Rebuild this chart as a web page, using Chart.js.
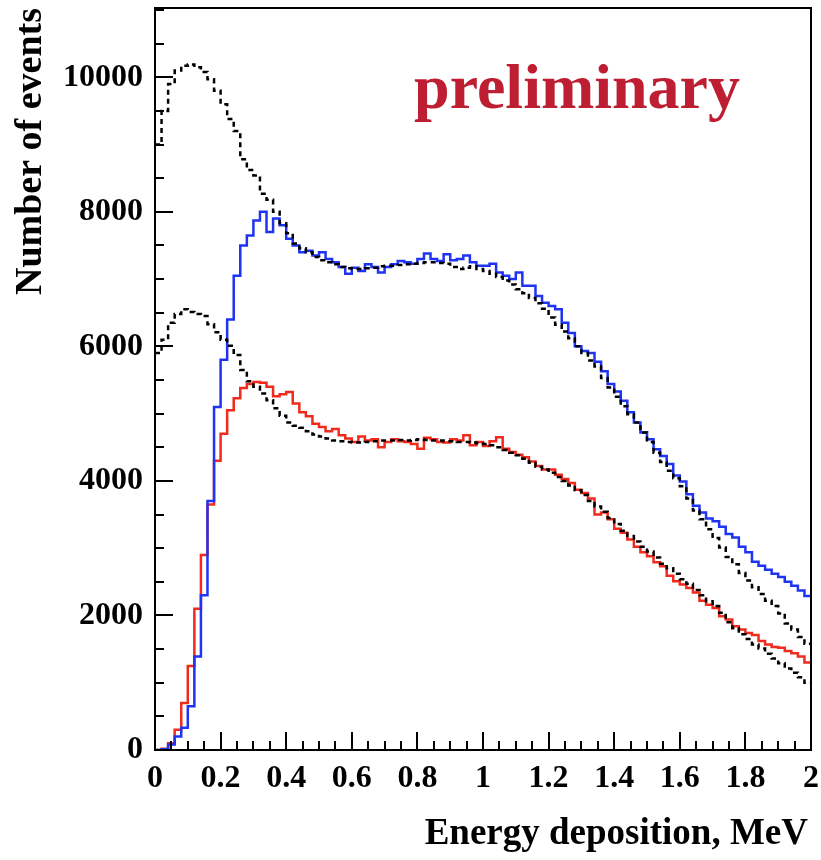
<!DOCTYPE html>
<html>
<head>
<meta charset="utf-8">
<script src="https://cdn.jsdelivr.net/npm/chart.js@4/dist/chart.umd.min.js"></script>
<style>
html,body{margin:0;padding:0;background:#fff;}
#c{display:block;}
</style>
</head>
<body>
<canvas id="c" width="821" height="860"></canvas>
<script>
// ---- Data (bin contents, 100 bins of 0.02 MeV from 0 to 2 MeV) ----
const binWidth = 0.02;
const nBins = 100;
const xTickValues = [0, 0.2, 0.4, 0.6, 0.8, 1, 1.2, 1.4, 1.6, 1.8, 2];
const yTickValues = [0, 2000, 4000, 6000, 8000, 10000];
const xTitle = 'Energy deposition, MeV';
const yTitle = 'Number of events';

const blueCounts = [
  0, 10, 80, 200, 330, 650, 1390, 2300, 3700, 5100,
  5800, 6400, 7050, 7500, 7650, 7870, 8000, 7700, 7900, 7800,
  7600, 7500, 7400, 7420, 7350, 7400, 7300, 7250, 7180, 7080,
  7170, 7120, 7220, 7180, 7100, 7180, 7220, 7270, 7250, 7230,
  7300, 7380, 7300, 7270, 7370, 7280, 7300, 7350, 7250, 7200,
  7200, 7230, 7100, 7050, 7000, 7100, 6900, 6900, 6750, 6650,
  6600, 6550, 6350, 6200, 6000, 5930, 5900, 5770, 5630, 5440,
  5330, 5190, 5020, 4870, 4720, 4620, 4470, 4370, 4250, 4080,
  3990, 3800, 3630, 3530, 3440, 3400, 3320, 3210, 3160, 3020,
  2940, 2800, 2740, 2680, 2620, 2570, 2500, 2440, 2370, 2290
];
const redCounts = [
  0, 20, 100, 300, 700, 1250, 2100, 2900, 3650, 4300,
  4700, 5050, 5230, 5380, 5440, 5470, 5460, 5400, 5260, 5290,
  5320, 5150, 5020, 4960, 4850, 4800, 4740, 4770, 4680, 4630,
  4580, 4660, 4600, 4620, 4500, 4580, 4620, 4590, 4580, 4550,
  4480, 4640, 4620, 4580, 4570, 4620, 4600, 4680, 4530, 4580,
  4520, 4590, 4650, 4480, 4430, 4390, 4350, 4290, 4220, 4170,
  4170, 4090, 4030, 3970, 3870, 3820, 3740, 3500, 3530, 3430,
  3290, 3230, 3130, 3020, 2940, 2880, 2790, 2730, 2590, 2510,
  2460, 2410, 2340, 2220, 2160, 2110, 1990, 1940, 1840, 1790,
  1740, 1710, 1620, 1570, 1530, 1520, 1470, 1440, 1390, 1300
];
const blueModel = [
  9000, 9500, 9900, 10100, 10170, 10190, 10150, 10080, 9970, 9800,
  9600, 9380, 9200, 8780, 8620, 8540, 8270, 8180, 8000, 7830,
  7680, 7530, 7460, 7400, 7330, 7280, 7250, 7220, 7180, 7160,
  7150, 7150, 7160, 7170, 7190, 7200, 7200, 7210, 7220, 7230,
  7240, 7250, 7250, 7240, 7230, 7180, 7150, 7170, 7190, 7150,
  7120, 7080, 7030, 6980, 6920, 6850, 6790, 6720, 6640, 6560,
  6430, 6320, 6220, 6120, 6000, 5900, 5790, 5700, 5530, 5390,
  5250, 5110, 4990, 4870, 4720, 4580, 4420, 4280, 4150, 4040,
  3920, 3740, 3560, 3430, 3280, 3150, 3010, 2870, 2760, 2630,
  2520, 2420, 2320, 2220, 2140, 2030, 1880, 1790, 1680, 1580
];
const redModel = [
  5900, 6100, 6350, 6480, 6550, 6510, 6480, 6450, 6330, 6210,
  6100, 6010, 5870, 5650, 5480, 5400, 5300, 5200, 5080, 4970,
  4870, 4820, 4790, 4740, 4690, 4660, 4630, 4600, 4590, 4580,
  4570, 4570, 4580, 4590, 4600, 4600, 4600, 4610, 4600, 4610,
  4620, 4610, 4600, 4600, 4590, 4590, 4580, 4580, 4570, 4560,
  4550, 4530, 4500, 4460, 4420, 4380, 4330, 4270, 4210, 4170,
  4120, 4060, 4000, 3930, 3860, 3790, 3700, 3620, 3540, 3450,
  3360, 3260, 3180, 3100, 3020, 2950, 2860, 2770, 2700, 2620,
  2540, 2470, 2380, 2300, 2210, 2140, 2040, 1900, 1810, 1720,
  1650, 1570, 1510, 1430, 1360, 1290, 1210, 1150, 1080, 1000
];

// ---- helpers ----
function histPoints(vals) {
  const pts = vals.map((v, i) => ({ x: +(i * binWidth).toFixed(4), y: v }));
  pts.push({ x: +(nBins * binWidth).toFixed(4), y: vals[vals.length - 1] });
  return pts;
}

const FONT = '"Liberation Serif", "Times New Roman", serif';

function noPad(s) { s.paddingTop = 0; s.paddingBottom = 0; s.paddingLeft = 0; s.paddingRight = 0; }

const rootAxes = {
  id: 'rootAxes',
  afterDatasetsDraw(chart) {
    const ctx = chart.ctx;
    const a = chart.chartArea;
    const xs = chart.scales.x, ys = chart.scales.y;
    ctx.save();
    ctx.strokeStyle = '#000';
    ctx.lineWidth = 2;
    ctx.strokeRect(a.left, a.top, a.right - a.left, a.bottom - a.top);
    ctx.beginPath();
    for (let k = 0; k <= 40; k++) {
      const px = Math.round(xs.getPixelForValue(k * 0.05));
      const len = (k % 4 === 0) ? 18 : 9;
      ctx.moveTo(px, a.bottom);
      ctx.lineTo(px, a.bottom - len);
    }
    for (let k = 0; k * 500 <= ys.max; k++) {
      const py = Math.round(ys.getPixelForValue(k * 500));
      const len = (k % 4 === 0) ? 18 : 9;
      ctx.moveTo(a.left, py);
      ctx.lineTo(a.left + len, py);
    }
    ctx.stroke();
    // x-axis title (ROOT style: right aligned)
    ctx.fillStyle = '#000';
    ctx.font = 'bold 37px ' + FONT;
    ctx.textAlign = 'right';
    ctx.textBaseline = 'alphabetic';
    ctx.fillText(xTitle, a.right - 3, 844);
    // preliminary label
    ctx.fillStyle = '#be1e31';
    ctx.font = 'bold 64px ' + FONT;
    ctx.textAlign = 'left';
    ctx.fillText('preliminary', xs.getPixelForValue(0.79), ys.getPixelForValue(9540));
    ctx.restore();
  }
};

const common = { pointRadius: 0, borderWidth: 2.5, stepped: 'before', fill: false, tension: 0 };

new Chart(document.getElementById('c'), {
  type: 'line',
  data: {
    datasets: [
      Object.assign({ label: 'model (total)', data: histPoints(blueModel), borderColor: '#000', borderDash: [5, 4] }, common),
      Object.assign({ label: 'model (selected)', data: histPoints(redModel), borderColor: '#000', borderDash: [5, 4] }, common),
      Object.assign({ label: 'data (total)', data: histPoints(blueCounts), borderColor: '#1f33f2' }, common),
      Object.assign({ label: 'data (selected)', data: histPoints(redCounts), borderColor: '#f02a1c' }, common)
    ]
  },
  options: {
    responsive: false,
    animation: false,
    devicePixelRatio: 1,
    layout: { padding: { top: 8, right: 10, left: 0, bottom: 0 } },
    plugins: { legend: { display: false }, tooltip: { enabled: false } },
    scales: {
      x: {
        type: 'linear', min: 0, max: 2,
        grid: { display: false, drawTicks: false },
        border: { display: false },
        afterBuildTicks: s => { s.ticks = xTickValues.map(v => ({ value: v })); },
        afterFit: s => { s.height = 110; noPad(s); },
        ticks: {
          padding: 10, color: '#000', maxRotation: 0, autoSkip: false,
          font: { family: FONT, size: 32, weight: 'bold' },
          callback: v => String(Number(v.toFixed(1)))
        },
        title: { display: false }
      },
      y: {
        type: 'linear', min: 0, max: 11030,
        grid: { display: false, drawTicks: false },
        border: { display: false },
        afterBuildTicks: s => { s.ticks = yTickValues.map(v => ({ value: v })); },
        afterFit: s => { s.width = 155; noPad(s); },
        ticks: {
          padding: 12, color: '#000', autoSkip: false,
          font: { family: FONT, size: 32, weight: 'bold' },
          callback: v => String(v)
        },
        title: {
          display: true, text: yTitle, align: 'end', color: '#000',
          font: { family: FONT, size: 38, weight: 'bold' },
          padding: { top: 8, bottom: 0 }
        }
      }
    }
  },
  plugins: [rootAxes]
});
</script>
</body>
</html>
